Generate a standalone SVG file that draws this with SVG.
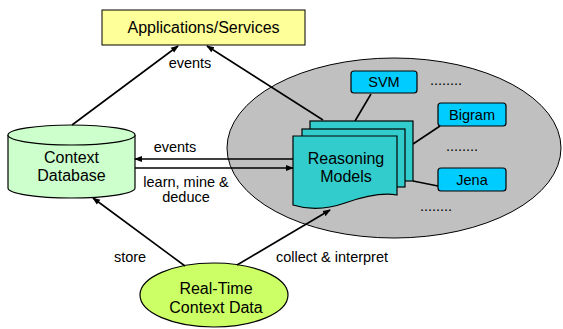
<svg xmlns="http://www.w3.org/2000/svg" width="563" height="329" viewBox="0 0 563 329">
<style>
text{font-family:"Liberation Sans",Arial,sans-serif;fill:#000;text-anchor:middle}
.big{font-size:16px}
.lbl{font-size:14.5px}
.box{font-size:14.5px}
.ln{stroke:#000;stroke-width:1.6;fill:none}
.arr{stroke:#000;stroke-width:1.6;fill:none;marker-end:url(#ah)}
.card{fill:#33CCCC;stroke:#000;stroke-width:1.2}
.tool{fill:#00CCFF;stroke:#000;stroke-width:1.2}
</style>
<defs>
<marker id="ah" markerWidth="8" markerHeight="8" refX="7" refY="4" orient="auto" markerUnits="userSpaceOnUse">
<path d="M0,1 L8,4 L0,7 Z" fill="#000"/>
</marker>
</defs>
<rect width="563" height="329" fill="#fff"/>
<g id="reasoning-area">
<ellipse cx="394" cy="148" rx="167" ry="90" fill="#C0C0C0" stroke="#000" stroke-width="1"/>
</g>
<g id="apps">
<rect x="102" y="10" width="203" height="35" fill="#FFFF99" stroke="#000" stroke-width="1"/>
<text class="big" x="203.5" y="33">Applications/Services</text>
</g>
<g id="context-db">
<path d="M8,135 V188 A63.5,10 0 0 0 135,188 V135" fill="#CCFFCC" stroke="#000" stroke-width="1.2"/>
<ellipse cx="71.5" cy="135" rx="63.5" ry="10" fill="#CCFFCC" stroke="#000" stroke-width="1.2"/>
<text class="big" x="71.5" y="163">Context</text>
<text class="big" x="71.5" y="181">Database</text>
</g>
<g id="real-time">
<ellipse cx="214" cy="295" rx="74" ry="32" fill="#CCFF66" stroke="#000" stroke-width="1.2"/>
<text class="big" x="216" y="294">Real-Time</text>
<text class="big" x="216" y="313">Context Data</text>
</g>
<g id="connectors">
<line class="arr" x1="72" y1="125" x2="178" y2="46"/>
<line class="arr" x1="323" y1="120" x2="207" y2="46"/>
<line class="arr" x1="293" y1="159" x2="135" y2="159"/>
<line class="arr" x1="135" y1="168" x2="293" y2="168"/>
<line class="arr" x1="185" y1="266" x2="93" y2="198"/>
<line class="arr" x1="237" y1="265" x2="330" y2="210"/>
<line class="ln" x1="371" y1="94" x2="355" y2="121"/>
<line class="ln" x1="440" y1="126" x2="413" y2="144"/>
<line class="ln" x1="413" y1="181" x2="438" y2="186"/>
</g>
<g id="labels">
<text class="lbl" x="190" y="68">events</text>
<text class="lbl" x="175" y="152">events</text>
<text class="lbl" x="186" y="187">learn, mine &amp;</text>
<text class="lbl" x="186" y="202">deduce</text>
<text class="lbl" x="130" y="262">store</text>
<text class="lbl" x="332" y="262">collect &amp; interpret</text>
</g>
<g id="reasoning-models">
<rect class="card" x="310" y="121" width="103" height="60"/>
<rect class="card" x="302" y="129" width="103" height="58"/>
<path class="card" d="M293,136 H397 V195 C380,192 362,197 345,203 C328,209 312,211 293,205 Z"/>
<text class="big" x="346" y="164">Reasoning</text>
<text class="big" x="346" y="182">Models</text>
</g>
<g id="svm">
<rect class="tool" x="351" y="71" width="66" height="22" rx="3"/>
<text class="box" x="384" y="87">SVM</text>
</g>
<g id="bigram">
<rect class="tool" x="438" y="103" width="68" height="23" rx="3"/>
<text class="box" x="472" y="120">Bigram</text>
</g>
<g id="jena">
<rect class="tool" x="438" y="168" width="68" height="23" rx="3"/>
<text class="box" x="472" y="185">Jena</text>
</g>
<g id="dots">
<text class="lbl" x="446" y="85">........</text>
<text class="lbl" x="462" y="151">........</text>
<text class="lbl" x="436" y="211">........</text>
</g>
</svg>
